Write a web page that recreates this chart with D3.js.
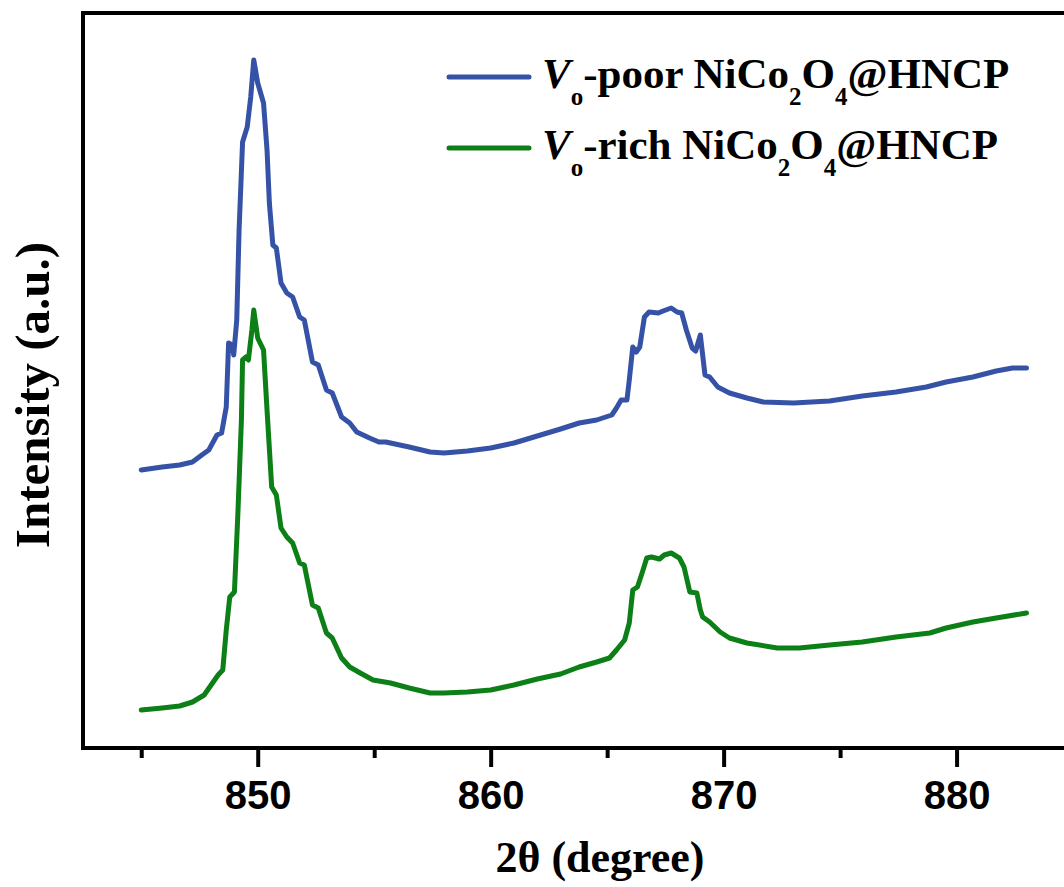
<!DOCTYPE html>
<html>
<head>
<meta charset="utf-8">
<script src="https://cdnjs.cloudflare.com/ajax/libs/d3/7.8.5/d3.min.js"></script>
<style>
  body { margin:0; background:#fff; }
  svg text { fill:#000; }
</style>
</head>
<body>
<div id="chart"></div>
<script>
//DATA - 2theta (degree) and intensity (a.u.)
var poorX = [845,845.9,846.65,847.2,847.6,847.9,848.25,848.45,848.65,848.75,848.9,848.97,849.1,849.2,849.35,849.55,849.7,849.83,850,850.25,850.4,850.5,850.65,850.8,851,851.25,851.5,851.8,852,852.35,852.6,852.95,853.2,853.6,853.95,854.25,854.8,855.2,855.5,856.5,857.4,858,859,860,861,862,863,863.8,864.55,865.2,865.4,865.6,865.85,865.95,866.1,866.25,866.4,866.6,866.8,867.2,867.4,867.75,868,868.2,868.4,868.65,868.8,869,869.05,869.2,869.4,869.75,870.25,871,871.7,873,874.55,875.95,877.4,878.7,879.55,880.7,881.7,882.4,883];
var poorY = [278,281,283,286,293,298,313,315,341,405,403,393,428,518,606,621,651,688,665,645,598,545,503,500,465,455,451,431,428,386,383,358,355,331,325,316,310,306,306,301,296,295,297,300,305,312,319,325,328,333,340,348,348,368,401,396,401,431,436,435,437,440,436,435,418,400,397,413,403,373,371,361,355,350,346,345,347,352,356,361,366,371,377,380,380];

var richX = [845,845.9,846.65,847.2,847.7,848,848.3,848.5,848.65,848.8,849,849.15,849.3,849.35,849.5,849.6,849.75,849.83,850,850.25,850.4,850.6,850.8,851,851.25,851.5,851.8,852,852.35,852.6,852.95,853.2,853.6,853.95,854.4,854.95,855.7,856.5,857.4,858,859,860,861,862,863,863.8,864.55,865.1,865.4,865.75,865.95,866.1,866.3,866.5,866.7,866.9,867.25,867.45,867.75,868.1,868.3,868.55,868.85,869,869.1,869.4,869.85,870.25,871,872.3,873.25,874.55,875.95,877.4,878.85,879.55,880.7,881.7,883];
var richY = [38,40,42,46,53,63,73,78,118,151,156,235,328,388,391,388,418,438,410,398,338,261,253,220,211,205,185,183,143,140,115,110,90,81,75,68,65,60,55,55,56,58,63,69,74,81,86,90,98,108,125,158,161,175,190,191,189,193,195,190,181,156,155,138,131,126,116,110,105,100,100,103,106,111,115,120,126,130,135];

var majorTicks = [850,860,870,880];
var minorTicks = [845,855,865,875,885];
var seriesNames = ["-poor NiCo", "-rich NiCo"];
var seriesColors = ["#3652a6", "#0c7f16"];

var width = 1064;
var height = 887;

var svg = d3.select("#chart").append("svg")
  .attr("width", width)
  .attr("height", height);

var x = d3.scaleLinear().domain([842.5, 886.5]).range([83, 1108]);
var y = d3.scaleLinear().domain([0, 735]).range([748, 13]);

//frame
svg.append("rect")
  .attr("x", 83).attr("y", 13)
  .attr("width", 1108 - 83).attr("height", 748 - 13)
  .attr("fill", "none").attr("stroke", "#000").attr("stroke-width", 4);

//axis ticks
var major = svg.append("g").attr("transform", "translate(0,748)")
  .call(d3.axisBottom(x).tickValues(majorTicks).tickSize(19).tickPadding(14).tickFormat(d3.format("d")));
var minor = svg.append("g").attr("transform", "translate(0,748)")
  .call(d3.axisBottom(x).tickValues(minorTicks).tickSize(10).tickFormat(""));
[major, minor].forEach(function(g){
  g.select(".domain").remove();
  g.selectAll(".tick line").attr("stroke", "#000").attr("stroke-width", 4);
});
major.selectAll(".tick text")
  .attr("font-family", "'Liberation Sans', Arial, sans-serif")
  .attr("font-weight", "bold")
  .attr("font-size", 40)
  .attr("fill", "#000");

//lines
var line = d3.line().x(function(d){ return x(d[0]); }).y(function(d){ return y(d[1]); });
var series = [d3.zip(poorX, poorY), d3.zip(richX, richY)];

svg.selectAll("path.trace").data(series).enter().append("path")
  .attr("class", "trace")
  .attr("d", line)
  .attr("fill", "none")
  .attr("stroke", function(d, i){ return seriesColors[i]; })
  .attr("stroke-width", 5)
  .attr("stroke-linejoin", "round")
  .attr("stroke-linecap", "round");

//axis titles
svg.append("text")
  .attr("x", 600).attr("y", 872)
  .attr("text-anchor", "middle")
  .attr("font-family", "'Liberation Serif', 'Times New Roman', serif")
  .attr("font-weight", "bold")
  .attr("font-size", 44)
  .text("2\u03b8 (degree)");

svg.append("text")
  .attr("transform", "translate(49,395) rotate(-90)")
  .attr("text-anchor", "middle")
  .attr("font-family", "'Liberation Serif', 'Times New Roman', serif")
  .attr("font-weight", "bold")
  .attr("font-size", 49)
  .text("Intensity (a.u.)");

//legend
var legend = svg.append("g");
seriesNames.forEach(function(name, i){
  var row = legend.append("g").attr("transform", "translate(0," + (i * 71) + ")");
  row.append("line")
    .attr("x1", 449).attr("x2", 529).attr("y1", 77).attr("y2", 77)
    .attr("stroke", seriesColors[i]).attr("stroke-width", 5).attr("stroke-linecap", "round");
  var t = row.append("text")
    .attr("x", 542).attr("y", 88)
    .attr("font-family", "'Liberation Serif', 'Times New Roman', serif")
    .attr("font-weight", "bold")
    .attr("font-size", 43);
  t.append("tspan").attr("font-style", "italic").text("V");
  t.append("tspan").attr("font-size", 25).attr("dy", 17).text("o");
  t.append("tspan").attr("dy", -17).text(name);
  t.append("tspan").attr("font-size", 25).attr("dy", 17).text("2");
  t.append("tspan").attr("dy", -17).text("O");
  t.append("tspan").attr("font-size", 25).attr("dy", 17).text("4");
  t.append("tspan").attr("dy", -17).text("@HNCP");
});
</script>
</body>
</html>
